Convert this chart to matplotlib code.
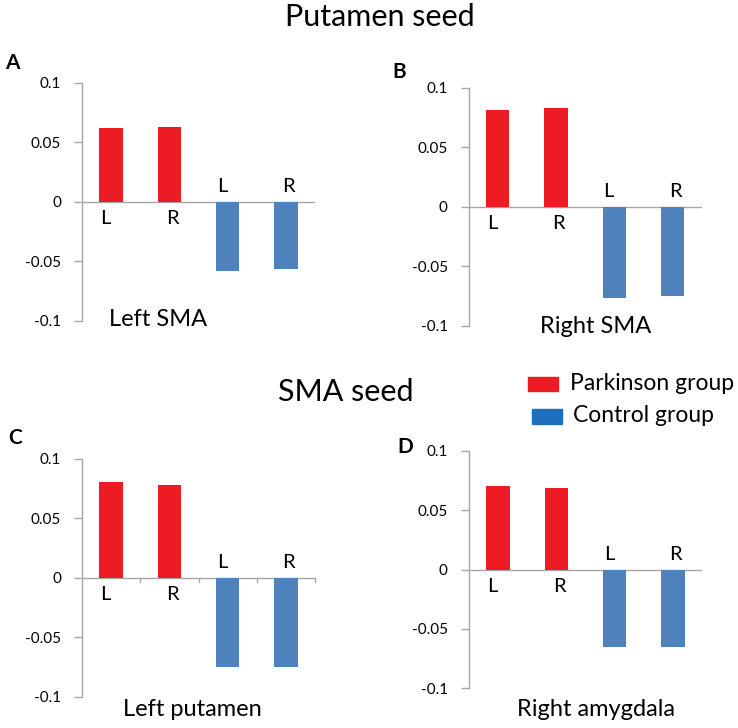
import matplotlib.pyplot as plt
from matplotlib.patches import Rectangle

W, H = 738, 728

categories = ['L', 'R', 'L', 'R']
ytick_values = [-0.1, -0.05, 0, 0.05, 0.1]
ytick_labels = ['-0.1', '-0.05', '0', '0.05', '0.1']

left_sma = [0.0617, 0.0628, -0.0580, -0.0563]
right_sma = [0.0811, 0.0826, -0.0767, -0.0747]
left_putamen = [0.0809, 0.0784, -0.0748, -0.0748]
right_amygdala = [0.0700, 0.0683, -0.0655, -0.0650]

RED = '#ED1C24'
BLUE = '#4F81BD'
LEGEND_BLUE = '#1F6FBF'
GRAY = '#A6A6A6'

plt.rcParams['font.family'] = ['Lato', 'DejaVu Sans']


def fx(x):
    return x / W


def fy(y):
    return 1 - y / H


def draw_panel(fig, box, values, name, name_xy, letter, letter_xy, xticks=False):
    left, top, right, bottom = box
    ax = fig.add_axes([fx(left), fy(bottom), fx(right - left), (bottom - top) / H])
    colors = [RED if v > 0 else BLUE for v in values]
    xs = range(len(values))
    ax.bar(xs, values, width=0.4, color=colors, zorder=2)
    ax.axhline(0, color=GRAY, lw=1, zorder=1)
    ax.set_xlim(-0.5, len(values) - 0.5)
    ax.set_ylim(-0.1, 0.1)
    ax.set_yticks(ytick_values)
    ax.set_yticklabels(ytick_labels)
    ax.tick_params(axis='y', length=6, color=GRAY, width=1, pad=9, labelsize=11)
    for s in ['top', 'right', 'bottom']:
        ax.spines[s].set_visible(False)
    ax.spines['left'].set_color(GRAY)
    ax.spines['left'].set_linewidth(1)
    ax.set_xticks([])
    if xticks:
        for b in [0.5, 1.5, 2.5, 3.5]:
            ax.plot([b, b], [0, -0.0035], color=GRAY, lw=1, clip_on=False)
    ax.patch.set_visible(False)

    for x, (lab, v) in enumerate(zip(categories, values)):
        dx = -4 if lab == 'L' else 2
        if v > 0:
            ax.annotate(lab, (x, 0), xytext=(dx, -6), textcoords='offset points',
                        ha='center', va='top', fontsize=14.5)
        else:
            ax.annotate(lab, (x, 0), xytext=(dx, 5), textcoords='offset points',
                        ha='center', va='bottom', fontsize=14.5)

    fig.text(fx(name_xy[0]), fy(name_xy[1]), name, ha='center', va='center', fontsize=17)
    fig.text(fx(letter_xy[0]), fy(letter_xy[1]), letter, ha='center', va='center',
             fontsize=15, fontweight='bold')
    return ax


fig = plt.figure(figsize=(W / 100, H / 100), dpi=100)

fig.text(fx(380), fy(17), 'Putamen seed', ha='center', va='center', fontsize=22)
fig.text(fx(346), fy(392), 'SMA seed', ha='center', va='center', fontsize=22)

draw_panel(fig, (82, 82.7, 315, 320.7), left_sma, 'Left SMA', (158, 320), 'A', (12, 63))
draw_panel(fig, (468.7, 87.7, 701.7, 325.7), right_sma, 'Right SMA', (596, 327), 'B', (399, 72))
draw_panel(fig, (82, 459, 315, 696.7), left_putamen, 'Left putamen', (192, 710), 'C', (15, 438),
           xticks=True)
draw_panel(fig, (468.7, 450.7, 702.3, 688.3), right_amygdala, 'Right amygdala', (596, 710), 'D',
           (405, 447))

# legend drawn by hand to match the placement
fig.add_artist(Rectangle((fx(528), fy(391)), 30 / W, 14 / H, color=RED, transform=fig.transFigure))
fig.add_artist(Rectangle((fx(532), fy(424)), 30 / W, 15 / H, color=LEGEND_BLUE,
                         transform=fig.transFigure))
fig.text(fx(570), fy(384), 'Parkinson group', ha='left', va='center', fontsize=16.5)
fig.text(fx(573), fy(416), 'Control group', ha='left', va='center', fontsize=16.5)

fig.savefig('out.png', dpi=100)
